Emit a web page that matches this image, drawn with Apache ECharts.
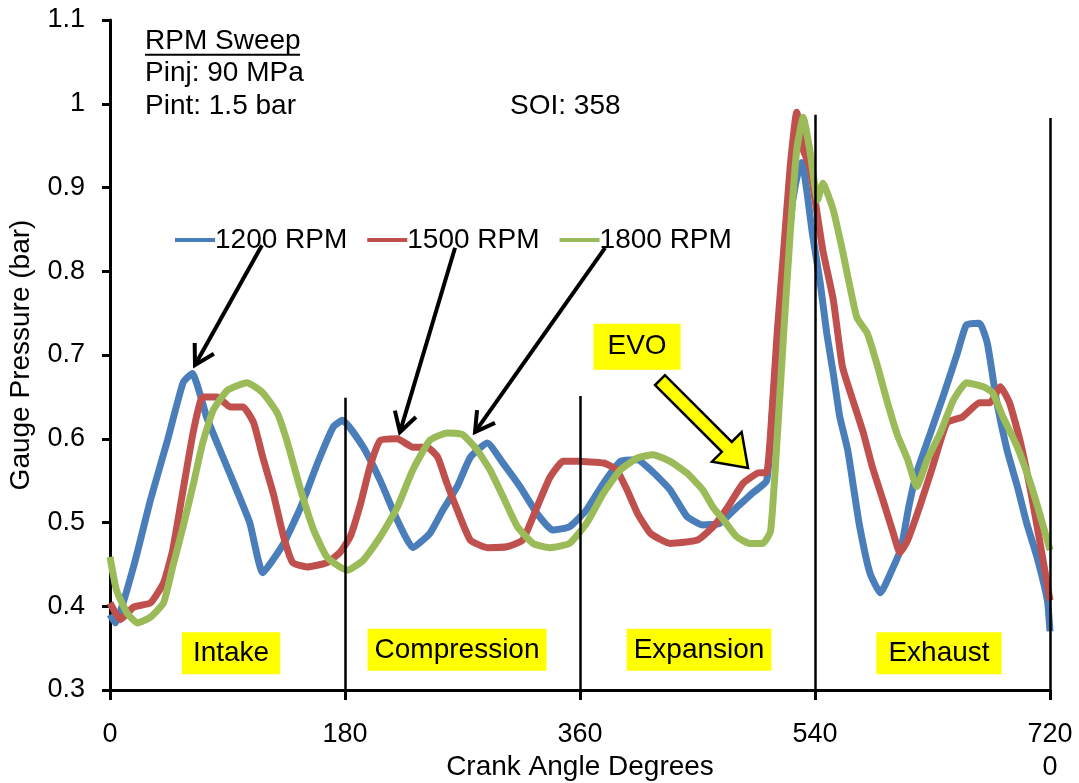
<!DOCTYPE html>
<html><head><meta charset="utf-8">
<script src="https://cdn.jsdelivr.net/npm/echarts/dist/echarts.min.js"></script>
<style>html,body{margin:0;padding:0;background:#fff}#c{width:1079px;height:783px}</style>
</head><body><div id="c"></div>
<script>
// ---------- data (crank angle deg, gauge pressure bar) ----------
const seriesNames = ['1200 RPM', '1500 RPM', '1800 RPM'];
const xTicks = [0, 180, 360, 540, 720];

const blueDeg = [0,4,18,31,44,56,63,74,82,94,107,117,133,146,159,171,178,194,207,220,232,245,255,266,276,289,301,314,327,339,352,365,378,391,404,416,429,442,454,467,480,492,503,508,513,519,523,528,530,534,538,544,549,554,559,565,569,574,582,590,600,606,612,618,628,638,649,656,666,672,679,687,695,702,710,718,720];
const blueVal = [0.39,0.38,0.447,0.527,0.598,0.667,0.678,0.626,0.595,0.55,0.50,0.44,0.475,0.518,0.571,0.614,0.622,0.59,0.55,0.503,0.47,0.487,0.515,0.543,0.578,0.595,0.571,0.543,0.511,0.491,0.495,0.515,0.547,0.573,0.575,0.56,0.539,0.507,0.497,0.499,0.518,0.535,0.55,0.646,0.745,0.825,0.885,0.925,0.93,0.893,0.845,0.786,0.726,0.678,0.626,0.587,0.547,0.497,0.44,0.416,0.447,0.47,0.52,0.56,0.605,0.65,0.702,0.736,0.738,0.714,0.646,0.587,0.543,0.5,0.459,0.407,0.37];

const redDeg = [0,8,18,31,41,48,56,64,71,82,92,102,110,117,125,133,140,151,166,176,184,192,199,207,220,232,243,251,258,266,276,289,304,316,327,337,347,358,378,388,396,404,414,429,450,462,473,485,496,503,506,511,516,521,526,531,536,542,546,554,561,569,577,584,592,600,605,611,620,630,641,653,666,674,682,689,697,705,712,720];
const redVal = [0.404,0.384,0.399,0.404,0.428,0.467,0.539,0.61,0.65,0.65,0.638,0.638,0.619,0.578,0.535,0.483,0.452,0.447,0.452,0.464,0.483,0.523,0.566,0.598,0.6,0.59,0.59,0.578,0.547,0.515,0.479,0.47,0.471,0.479,0.518,0.554,0.573,0.573,0.571,0.563,0.539,0.511,0.487,0.475,0.479,0.495,0.518,0.547,0.559,0.56,0.607,0.726,0.825,0.925,0.99,0.945,0.925,0.865,0.825,0.766,0.686,0.646,0.607,0.566,0.527,0.487,0.464,0.479,0.518,0.566,0.619,0.626,0.643,0.643,0.662,0.643,0.598,0.539,0.479,0.407];

const greenDeg = [0,5,13,21,31,41,48,56,64,71,79,90,105,117,128,136,146,156,166,176,182,194,207,220,232,245,258,270,281,291,301,312,324,337,352,365,378,391,404,416,429,442,454,462,470,480,490,500,506,511,516,521,526,531,536,542,546,554,561,572,580,588,595,603,611,618,626,636,646,656,669,676,684,695,705,712,720];
const greenVal = [0.459,0.419,0.392,0.38,0.387,0.404,0.447,0.495,0.547,0.595,0.634,0.658,0.667,0.655,0.631,0.595,0.539,0.491,0.459,0.447,0.443,0.455,0.483,0.518,0.563,0.598,0.607,0.605,0.587,0.563,0.531,0.495,0.475,0.47,0.475,0.499,0.535,0.563,0.577,0.581,0.573,0.559,0.539,0.518,0.503,0.483,0.475,0.475,0.49,0.6,0.726,0.845,0.945,0.984,0.945,0.885,0.905,0.873,0.825,0.745,0.726,0.686,0.646,0.605,0.575,0.543,0.575,0.607,0.646,0.667,0.662,0.655,0.626,0.59,0.547,0.511,0.467];

// stroke-phase divider lines: [angle, top pressure]
const dividerAngles = [180, 360, 540, 720];
const dividerTops = [0.649, 0.651, 0.987, 0.983];

const phaseLabels = ['Intake', 'Compression', 'Expansion', 'Exhaust'];
const infoLines = ['RPM Sweep', 'Pinj: 90 MPa', 'Pint: 1.5 bar'];
const soiText = 'SOI: 358';
const evoText = 'EVO';

// ---------- annotation placement (data coordinates) ----------
const phasePos = [[92.7, 0.344], [265.8, 0.348], [451.2, 0.348], [635, 0.344]];
const phasePad = [[7, 11], [7, 7], [7, 7], [7, 12]];
const infoPos = [[26.8, 1.074], [26.8, 1.036], [26.8, 0.997]];
const soiPos = [306.4, 0.997];
const evoPos = [403.7, 0.710];
const blackArrows = [
  [[116.4, 0.831], [65.1, 0.688]],
  [[264.3, 0.828], [222.1, 0.608]],
  [[379.2, 0.828], [279.6, 0.608]]
];
const evoArrow = [[421.3, 0.670], [488.7, 0.565]];

const FONT = "'Liberation Sans', Arial, sans-serif";
const colors = ['#4A7EBB', '#C0504D', '#9BBB59'];
const zip = (a, b) => a.map((x, i) => [x, b[i]]);
const seriesData = [zip(blueDeg, blueVal), zip(redDeg, redVal), zip(greenDeg, greenVal)];

const chart = echarts.init(document.getElementById('c'), null, {renderer: 'canvas'});

const option = {
  animation: false,
  backgroundColor: '#fff',
  color: colors,
  grid: {left: 110, right: 29, top: 20, bottom: 93, containLabel: false, outerBoundsMode: 'none'},
  legend: {
    left: 170, top: 221, icon: 'rect', itemWidth: 40, itemHeight: 4, itemGap: 20,
    textStyle: {fontFamily: FONT, fontSize: 28, color: '#000', padding: [0, 0, 0, -5]},
    data: seriesNames
  },
  xAxis: {
    type: 'value', min: 0, max: 720, interval: 180,
    axisLine: {onZero: false, lineStyle: {color: '#000', width: 3}},
    axisTick: {length: 10, lineStyle: {color: '#000', width: 3}},
    axisLabel: {fontFamily: FONT, fontSize: 27, color: '#000', margin: 28, lineHeight: 33,
      formatter: v => (v === 720 ? '720\n0' : String(v))},
    splitLine: {show: false},
    name: 'Crank Angle Degrees', nameLocation: 'middle', nameGap: 63, nameMoveOverlap: false,
    nameTextStyle: {fontFamily: FONT, fontSize: 28, color: '#000'}
  },
  yAxis: {
    type: 'value', min: 0.3, max: 1.1, interval: 0.1,
    axisLine: {show: true, lineStyle: {color: '#000', width: 3}},
    axisTick: {show: true, length: 8, lineStyle: {color: '#000', width: 3}},
    axisLabel: {fontFamily: FONT, fontSize: 27, color: '#000', margin: 25,
      formatter: v => String(parseFloat(v.toFixed(1)))},
    splitLine: {show: false},
    name: 'Gauge Pressure (bar)', nameLocation: 'middle', nameRotate: 90, nameGap: 75, nameMoveOverlap: false,
    nameTextStyle: {fontFamily: FONT, fontSize: 28, color: '#000'}
  },
  series: seriesNames.map((n, i) => ({
    name: n, type: 'line', data: seriesData[i], showSymbol: false, symbol: 'none',
    lineStyle: {width: 7, color: colors[i]}, smooth: 0.15, z: 2 + i
  })).concat([{
    name: 'dividers', type: 'line', data: [], z: 10,
    markLine: {
      symbol: 'none', silent: true, label: {show: false},
      lineStyle: {color: '#000', width: 2.5, type: 'solid'},
      data: dividerAngles.map((a, i) => [{coord: [a, 0.3]}, {coord: [a, dividerTops[i]]}])
    }
  }])
};
chart.setOption(option);

// ---------- annotations ----------
const px = p => chart.convertToPixel({gridIndex: 0}, p);
const g = [];

function blackArrow(a, b) {
  const p0 = px(a), p1 = px(b);
  const dx = p1[0] - p0[0], dy = p1[1] - p0[1], L = Math.hypot(dx, dy);
  const ux = -dx / L, uy = -dy / L, len = 22, t = Math.PI / 6;
  const r = s => [ux * Math.cos(s) - uy * Math.sin(s), ux * Math.sin(s) + uy * Math.cos(s)];
  const b1 = r(t), b2 = r(-t);
  g.push({type: 'line', z: 50, shape: {x1: p0[0], y1: p0[1], x2: p1[0] + ux * 2, y2: p1[1] + uy * 2},
    style: {stroke: '#000', lineWidth: 4}});
  g.push({type: 'polyline', z: 50, shape: {points: [[p1[0] + b1[0] * len, p1[1] + b1[1] * len], p1, [p1[0] + b2[0] * len, p1[1] + b2[1] * len]]},
    style: {stroke: '#000', lineWidth: 4, fill: null, lineJoin: 'miter'}});
}
blackArrows.forEach(a => blackArrow(a[0], a[1]));

(function yellowArrow() {
  const p0 = px(evoArrow[0]), p1 = px(evoArrow[1]);
  const dx = p1[0] - p0[0], dy = p1[1] - p0[1], L = Math.hypot(dx, dy);
  const ux = dx / L, uy = dy / L, nx = -uy, ny = ux;
  const sw = 7, hw = 21, hl = 30;
  const bx = p1[0] - ux * hl, by = p1[1] - uy * hl;
  const pts = [
    [p0[0] + nx * sw, p0[1] + ny * sw], [bx + nx * sw, by + ny * sw], [bx + nx * hw, by + ny * hw],
    p1, [bx - nx * hw, by - ny * hw], [bx - nx * sw, by - ny * sw], [p0[0] - nx * sw, p0[1] - ny * sw]
  ];
  g.push({type: 'polygon', z: 50, shape: {points: pts}, style: {fill: '#FFFF00', stroke: '#000', lineWidth: 2.5}});
})();

function boxText(txt, pos, pad) {
  const p = px(pos);
  g.push({type: 'text', z: 60, x: p[0], y: p[1],
    style: {text: txt, font: '28px ' + FONT, fill: '#000', align: 'center', verticalAlign: 'middle',
      backgroundColor: '#FFFF00', padding: pad}});
}
phaseLabels.forEach((t, i) => boxText(t, phasePos[i], phasePad[i]));
boxText(evoText, evoPos, [9, 14]);

infoLines.forEach((t, i) => {
  const p = px(infoPos[i]);
  g.push({type: 'text', z: 60, x: p[0], y: p[1],
    style: {text: t, font: '28px ' + FONT, fill: '#000', align: 'left', verticalAlign: 'middle'}});
  if (i === 0) {
    g.push({type: 'line', z: 60, shape: {x1: p[0], y1: p[1] + 13, x2: p[0] + 155, y2: p[1] + 13},
      style: {stroke: '#000', lineWidth: 2}});
  }
});
(function () {
  const p = px(soiPos);
  g.push({type: 'text', z: 60, x: p[0], y: p[1],
    style: {text: soiText, font: '28px ' + FONT, fill: '#000', align: 'left', verticalAlign: 'middle'}});
})();

chart.setOption({graphic: g});
</script></body></html>
